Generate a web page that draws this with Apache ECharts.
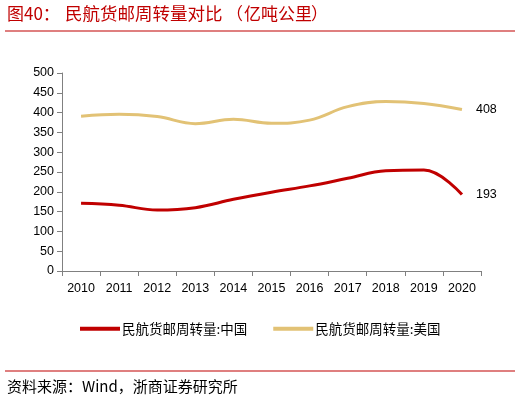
<!DOCTYPE html>
<html><head><meta charset="utf-8">
<script src="https://cdn.jsdelivr.net/npm/echarts@6/dist/echarts.min.js"></script>
<style>html,body{margin:0;padding:0;background:#fff}#c{width:520px;height:402px}</style>
</head><body><div id="c"></div>
<script>
const years = ['2010','2011','2012','2013','2014','2015','2016','2017','2018','2019','2020'];
const china = [171,166,154,160,181,199,215,234,253,255,193];
const usa = [391,396,390,372,383,373,381,415,428,423,408];
const yTicks = {min:0, max:500, interval:50};
const cjk = '"Noto Sans CJK SC", sans-serif';
const chart = echarts.init(document.getElementById('c'));
chart.setOption({
  animation:false,
  backgroundColor:'#fff',
  grid:{left:62,right:39,top:73,bottom:131},
  xAxis:{type:'category',data:years,boundaryGap:true,
    axisLine:{lineStyle:{color:'#808080'}},
    axisTick:{show:true,length:5,lineStyle:{color:'#808080'}},
    axisLabel:{color:'#000',fontSize:12.5,fontFamily:'"Liberation Sans", Arial',margin:11}},
  yAxis:{type:'value',min:yTicks.min,max:yTicks.max,interval:yTicks.interval,
    splitLine:{show:false},
    axisLine:{show:true,lineStyle:{color:'#808080'}},
    axisTick:{show:true,length:5,inside:false,lineStyle:{color:'#808080'}},
    axisLabel:{color:'#000',fontSize:12.5,fontFamily:'"Liberation Sans", Arial',margin:8}},
  legend:{left:75,top:317,itemWidth:40,itemHeight:4,itemGap:26,icon:'rect',
    textStyle:{fontSize:13.5,fontFamily:cjk,color:'#000',padding:[0,0,0,-3]},
    data:['民航货邮周转量:中国','民航货邮周转量:美国']},
  series:[
    {name:'民航货邮周转量:中国',type:'line',data:china,smooth:0.4,symbol:'none',
     lineStyle:{color:'#c00000',width:3},itemStyle:{color:'#c00000'},
     endLabel:{show:true,formatter:'{c}',distance:14,color:'#000',fontSize:12.5,fontFamily:'"Liberation Sans", Arial'}},
    {name:'民航货邮周转量:美国',type:'line',data:usa,smooth:0.4,symbol:'none',
     lineStyle:{color:'#e2c275',width:3},itemStyle:{color:'#e2c275'},
     endLabel:{show:true,formatter:'{c}',distance:14,color:'#000',fontSize:12.5,fontFamily:'"Liberation Sans", Arial'}}
  ],
  graphic:[
    {type:'text',left:7,top:5,style:{text:'图40：',fill:'#c00000',font:'17px '+cjk}},
    {type:'text',left:65,top:5,style:{text:'民航货邮周转量对比',fill:'#c00000',font:'17.5px '+cjk}},
    {type:'text',left:226,top:5,style:{text:'（',fill:'#c00000',font:'17px '+cjk}},
    {type:'text',left:244,top:5,style:{text:'亿吨公里',fill:'#c00000',font:'17px '+cjk}},
    {type:'text',left:311,top:5,style:{text:'）',fill:'#c00000',font:'17px '+cjk}},
    {type:'rect',shape:{x:5,y:30.5,width:510,height:1},style:{fill:'#c00000'}},
    {type:'rect',shape:{x:5,y:370.5,width:510,height:1},style:{fill:'#c00000'}},
    {type:'text',left:7,top:379,style:{text:'资料来源：Wind，浙商证券研究所',fill:'#000',font:'15px '+cjk}}
  ]
});
</script></body></html>
